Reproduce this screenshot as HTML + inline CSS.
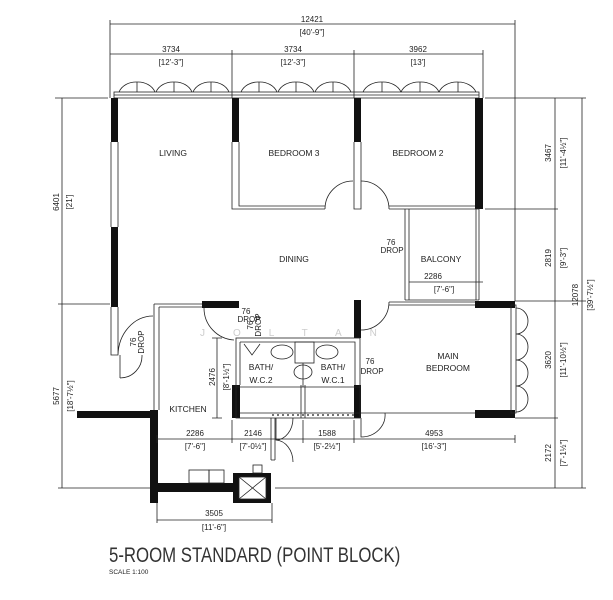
<!DOCTYPE html>
<html><head><meta charset="utf-8"><style>
html,body{margin:0;padding:0;background:#fff;}
svg{display:block;}
text{font-family:"Liberation Sans Narrow","Liberation Sans",sans-serif;fill:#222;}
.d{font-size:8px;text-anchor:middle;}
.r{font-size:8.5px;text-anchor:middle;}
</style></head><body>
<svg width="613" height="600" viewBox="0 0 613 600" xmlns="http://www.w3.org/2000/svg">
<g stroke="#222" stroke-width="0.8" fill="none">
<!-- top dims -->
<line x1="110" y1="24" x2="515" y2="24"/>
<line x1="110" y1="20" x2="110" y2="98"/><line x1="515" y1="20" x2="515" y2="301"/>
<line x1="110" y1="54" x2="483" y2="54"/>
<line x1="232" y1="50" x2="232" y2="98"/><line x1="354" y1="50" x2="354" y2="98"/><line x1="483" y1="50" x2="483" y2="98"/>
<!-- right dims -->
<line x1="485" y1="98" x2="586" y2="98"/>
<line x1="555" y1="98" x2="555" y2="488"/><line x1="582" y1="98" x2="582" y2="488"/>
<line x1="485" y1="209" x2="558" y2="209"/>
<line x1="515" y1="301" x2="586" y2="301"/>
<line x1="515" y1="418" x2="558" y2="418"/>
<!-- left dims -->
<line x1="55" y1="98" x2="108" y2="98"/>
<line x1="62" y1="98" x2="62" y2="488"/>
<line x1="58" y1="304" x2="110" y2="304"/>
<line x1="58" y1="488" x2="232" y2="488"/>
<line x1="275" y1="488" x2="586" y2="488"/>
<!-- window frame top -->
<rect x="114" y="92" width="365" height="6"/>
<line x1="114" y1="95" x2="479" y2="95"/>
</g>
<!-- window arcs top -->
<g stroke="#222" stroke-width="0.8" fill="none">
<path d="M119 92 A18 15 0 0 1 137 82 L137 92 M137 82 A18 15 0 0 1 155 92 M156 92 A18 15 0 0 1 174 82 L174 92 M174 82 A18 15 0 0 1 192 92 M193 92 A18 15 0 0 1 211 82 L211 92 M211 82 A18 15 0 0 1 229 92"/>
<path d="M241 92 A18 15 0 0 1 259 82 L259 92 M259 82 A18 15 0 0 1 277 92 M278 92 A18 15 0 0 1 296 82 L296 92 M296 82 A18 15 0 0 1 314 92 M315 92 A18 15 0 0 1 333 82 L333 92 M333 82 A18 15 0 0 1 351 92"/>
<path d="M363 92 A19 15 0 0 1 382 82 L382 92 M382 82 A19 15 0 0 1 401 92 M401 92 A19 15 0 0 1 420 82 L420 92 M420 82 A19 15 0 0 1 439 92 M439 92 A19 15 0 0 1 458 82 L458 92 M458 82 A19 15 0 0 1 476 92"/>
</g>
<!-- black wall pieces -->
<g fill="#111">
<rect x="111" y="98" width="7" height="44"/>
<rect x="111" y="227" width="7" height="80"/>
<rect x="232" y="98" width="7" height="44"/>
<rect x="354" y="98" width="7" height="44"/>
<rect x="475" y="98" width="8" height="111"/>
<rect x="202" y="301" width="37" height="7"/>
<rect x="354" y="300" width="7" height="38"/>
<rect x="232" y="385" width="8" height="33"/>
<rect x="354" y="385" width="7" height="33"/>
<rect x="475" y="301" width="40" height="7"/>
<rect x="475" y="410" width="40" height="8"/>
<rect x="77" y="411" width="80" height="7"/>
<rect x="150" y="410" width="8" height="93"/>
<rect x="150" y="483" width="86" height="9"/>
<rect x="233" y="473" width="38" height="30"/>
</g>
<rect x="239" y="477" width="27" height="22" fill="#fff" stroke="#222" stroke-width="0.8"/>
<path d="M239 477 L266 499 M266 477 L239 499" stroke="#222" stroke-width="0.8"/>
<g stroke="#222" stroke-width="0.8" fill="none">
<!-- thin walls -->
<path d="M111 142 V227 M118 142 V227"/>
<path d="M232 142 V209 H325 M239 142 V206 H325"/>
<path d="M354 142 V209 H361 V142"/>
<path d="M389 209 H479 M389 206 H475"/>
<path d="M325 209 A28 28 0 0 1 353 181 M361 181 A28 28 0 0 1 389 209"/>
<!-- balcony -->
<path d="M405 209 V300 M409 209 V300 M476 209 V300 M479 209 V300 M405 300 H479"/>
<line x1="409" y1="282" x2="483" y2="282"/>
<!-- left door -->
<path d="M111 307 V355 H118 V307 M118 355 A35 40 0 0 1 153 316 M120 355 V378 M120 378 A22 22 0 0 0 142 355"/>
<!-- kitchen -->
<path d="M154 304 H202 M154 304 V410 M159 307 V410 M159 307 H202"/>
<path d="M204 308 A32 32 0 0 0 234 340"/>
<!-- baths -->
<rect x="236" y="338" width="124" height="80"/>
<path d="M240 342 H355 V385 M240 342 V385 M236 387 H360"/>
<path d="M301 385 V418 M305 385 V418 M303 363 V387"/>
<rect x="295" y="342" width="19" height="21"/>
<ellipse cx="282" cy="352" rx="11" ry="7"/><ellipse cx="327" cy="352" rx="11" ry="7"/>
<ellipse cx="303" cy="372" rx="9" ry="7"/>
<path d="M244 344 L252 355 L260 344"/>
<!-- main bedroom -->
<path d="M389 302 H475 M389 305 H475"/>
<path d="M361 330 A28 28 0 0 0 389 302"/>
<rect x="511" y="305" width="5" height="108"/>
<path d="M516 308 A12 13 0 0 1 516 334 M516 334 A12 13 0 0 1 516 360 M516 360 A12 13 0 0 1 516 386 M516 386 A12 13 0 0 1 516 412"/>
<line x1="240" y1="413" x2="475" y2="413"/>
<path d="M361 418 V437 A24 22 0 0 0 385 413"/>
<!-- small door bottom -->
<path d="M271 418 V460 M275 418 V460 M276 418 V440 A17 22 0 0 0 293 418 M276 440 A18 22 0 0 1 293 462 M271 460 H275"/>
<!-- stove -->
<rect x="189" y="470" width="20" height="13"/><rect x="209" y="470" width="15" height="13"/>
<rect x="253" y="465" width="9" height="8"/>
<!-- bottom dims -->
<line x1="157" y1="439" x2="515" y2="439"/>
<path d="M157 435 V443 M232 420 V443 M303 420 V443 M354 420 V443 M515 435 V443"/>
<line x1="217" y1="338" x2="217" y2="418"/><path d="M212 338 H222 M212 418 H222"/>
<line x1="157" y1="520" x2="272" y2="520"/><path d="M157 503 V523 M272 503 V523"/>
</g>
<g stroke="#222" stroke-width="1.2" stroke-dasharray="2 3"><line x1="272" y1="415" x2="354" y2="415"/></g>
<!-- labels -->
<g class="r">
<text x="173" y="156" class="r">LIVING</text>
<text x="294" y="156" class="r">BEDROOM 3</text>
<text x="418" y="156" class="r">BEDROOM 2</text>
<text x="294" y="262" class="r">DINING</text>
<text x="441" y="262" class="r">BALCONY</text>
<text x="448" y="359" class="r">MAIN</text>
<text x="448" y="371" class="r">BEDROOM</text>
<text x="188" y="412" class="r">KITCHEN</text>
<text x="261" y="370" class="r">BATH/</text><text x="261" y="383" class="r">W.C.2</text>
<text x="333" y="370" class="r">BATH/</text><text x="333" y="383" class="r">W.C.1</text>
</g>
<g class="d">
<text x="312" y="22" class="d">12421</text><text x="312" y="35" class="d">[40'-9"]</text>
<text x="171" y="52" class="d">3734</text><text x="171" y="65" class="d">[12'-3"]</text>
<text x="293" y="52" class="d">3734</text><text x="293" y="65" class="d">[12'-3"]</text>
<text x="418" y="52" class="d">3962</text><text x="418" y="65" class="d">[13']</text>
<text x="433" y="279" class="d">2286</text><text x="444" y="292" class="d">[7'-6"]</text>
<text x="391" y="245" class="d">76</text><text x="392" y="253" class="d">DROP</text>
<text x="246" y="314" class="d">76</text><text x="249" y="322" class="d">DROP</text>
<text x="370" y="364" class="d">76</text><text x="372" y="374" class="d">DROP</text>
<text x="195" y="436" class="d">2286</text><text x="195" y="449" class="d">[7'-6"]</text>
<text x="253" y="436" class="d">2146</text><text x="253" y="449" class="d">[7'-0½"]</text>
<text x="327" y="436" class="d">1588</text><text x="327" y="449" class="d">[5'-2½"]</text>
<text x="434" y="436" class="d">4953</text><text x="434" y="449" class="d">[16'-3"]</text>
<text x="214" y="516" class="d">3505</text><text x="214" y="530" class="d">[11'-6"]</text>
</g>
<g class="d">
<text class="d" transform="translate(59,202) rotate(-90)">6401</text>
<text class="d" transform="translate(72,202) rotate(-90)">[21']</text>
<text class="d" transform="translate(59,396) rotate(-90)">5677</text>
<text class="d" transform="translate(73,396) rotate(-90)">[18'-7½"]</text>
<text class="d" transform="translate(551,153) rotate(-90)">3467</text>
<text class="d" transform="translate(566,153) rotate(-90)">[11'-4½"]</text>
<text class="d" transform="translate(551,258) rotate(-90)">2819</text>
<text class="d" transform="translate(566,258) rotate(-90)">[9'-3"]</text>
<text class="d" transform="translate(551,360) rotate(-90)">3620</text>
<text class="d" transform="translate(566,360) rotate(-90)">[11'-10½"]</text>
<text class="d" transform="translate(551,453) rotate(-90)">2172</text>
<text class="d" transform="translate(566,453) rotate(-90)">[7'-1½"]</text>
<text class="d" transform="translate(578,295) rotate(-90)">12078</text>
<text class="d" transform="translate(593,295) rotate(-90)">[39'-7½"]</text>
<text class="d" transform="translate(215,377) rotate(-90)">2476</text>
<text class="d" transform="translate(229,377) rotate(-90)">[8'-1½"]</text>
<text class="d" transform="translate(136,342) rotate(-90)">76</text>
<text class="d" transform="translate(144,342) rotate(-90)">DROP</text>
<text class="d" transform="translate(253,325) rotate(-90)">76</text>
<text class="d" transform="translate(261,325) rotate(-90)">DROP</text>
</g>
<text x="200" y="336" style="font-size:10px;fill:#ccc;letter-spacing:28px">JOLTAN</text>
<text x="109" y="562" transform="translate(109,0) scale(0.8,1) translate(-109,0)" style="font-size:21px;fill:#333">5-ROOM STANDARD (POINT BLOCK)</text>
<text x="109" y="574" style="font-size:6.5px">SCALE  1:100</text>
</svg>
</body></html>
